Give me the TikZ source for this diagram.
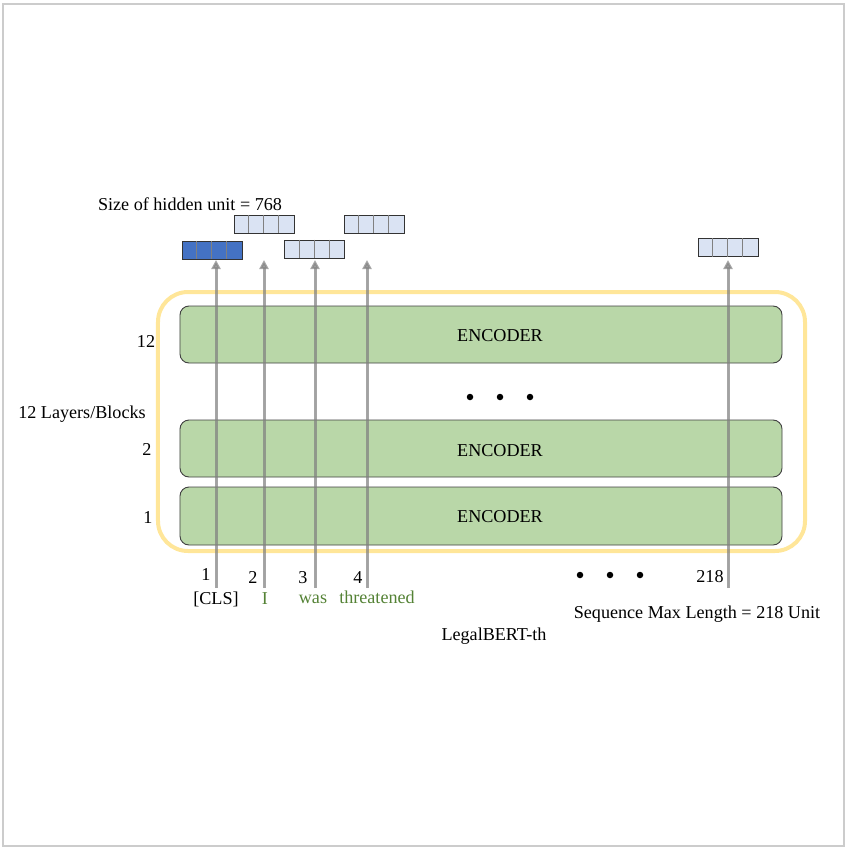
\documentclass[tikz,border=0pt]{standalone}
\usepackage{fontspec}
\setmainfont{Liberation Serif}
\usetikzlibrary{arrows.meta}
\definecolor{encgreen}{HTML}{B9D7A8}
\definecolor{frameyellow}{HTML}{FFE699}
\definecolor{darkblue}{HTML}{4472C4}
\definecolor{lightblue}{HTML}{DAE3F3}
\definecolor{wordgreen}{HTML}{548235}
\definecolor{bordergray}{HTML}{CCCCCC}
\definecolor{arrowgray}{HTML}{808080}
\begin{document}
\begin{tikzpicture}[x=1bp,y=-1bp,
  every node/.style={font=\fontsize{18.2}{21}\selectfont, inner sep=0pt},
  encbox/.style={draw=black!75, fill=encgreen, rounded corners=9bp, line width=0.9bp},
  vecbox/.style={draw=black!80, line width=0.9bp},
  cellline/.style={draw=black!50, line width=0.7bp},
  tokarrow/.style={draw=arrowgray, draw opacity=0.7, fill=arrowgray, fill opacity=0.7, line width=3bp, -{Triangle[length=9bp,width=9bp]}},
  dot/.style={circle, fill=black, minimum size=6.5bp, inner sep=0pt},
  word/.style={text=wordgreen}
]
\useasboundingbox (0,0) rectangle (847,850);
% outer border
\draw[bordergray, line width=2bp] (3,4) rectangle (843.5,846);
% yellow frame
\node[draw=frameyellow, line width=4bp, rounded corners=30bp, minimum width=647bp, minimum height=259bp] (frame) at (481.5,421.5) {};
% encoders
\node[encbox, minimum width=602bp, minimum height=57bp] (enc12) at (481,334.5) {};
\node[encbox, minimum width=602bp, minimum height=57bp] (enc2) at (481,448.5) {};
\node[encbox, minimum width=602bp, minimum height=58bp] (enc1) at (481,516) {};
\node (t12) at (500,336) {ENCODER};
\node (t2) at (500,451) {ENCODER};
\node (t1) at (500,517) {ENCODER};
% layer labels
\node (l12) at (146,341) {12};
\node (l2) at (147,449) {2};
\node (l1) at (148,518) {1};
\node (layers) at (82,414) {12 Layers/Blocks};
% dots
\node[dot] (d1) at (470,397) {};
\node[dot] (d2) at (500,397) {};
\node[dot] (d3) at (530,397) {};
\node[dot] (e1) at (580,575) {};
\node[dot] (e2) at (610,575) {};
\node[dot] (e3) at (640,575) {};
% vector boxes
\foreach \n/\cx/\cy/\col in {v1/212/250/darkblue, v2/264/224/lightblue, v3/314.5/249/lightblue, v4/374/224/lightblue, v218/728/247.5/lightblue}{
  \node[vecbox, fill=\col, minimum width=60bp, minimum height=18bp] (\n) at (\cx,\cy) {};
  \foreach \k in {1,2,3}{
    \draw[cellline] ([xshift=\k*15bp]\n.north west) -- ([xshift=\k*15bp]\n.south west);
  }
}
\node (hidden) at (190,204) {Size of hidden unit = 768};
% arrows
\foreach \n/\x in {a1/216, a2/264, a3/315, a4/367, a218/728}{
  \coordinate (\n s) at (\x,588);
  \coordinate (\n e) at (\x,260);
  \draw[tokarrow] (\n s) -- (\n e);
}
% position numbers
\node (n1) at (206,575) {1};
\node (n2) at (253,577) {2};
\node (n3) at (303,578) {3};
\node (n4) at (358,578) {4};
\node (n218) at (710,577) {218};
% words
\node (w1) at (216,599) {[CLS]};
\node[word] (w2) at (265,599) {I};
\node[word] (w3) at (313,599) {was};
\node[word] (w4) at (377,597) {threatened};
\node (seq) at (697,614) {Sequence Max Length = 218 Unit};
\node (legal) at (494,636) {LegalBERT-th};
\end{tikzpicture}
\end{document}
